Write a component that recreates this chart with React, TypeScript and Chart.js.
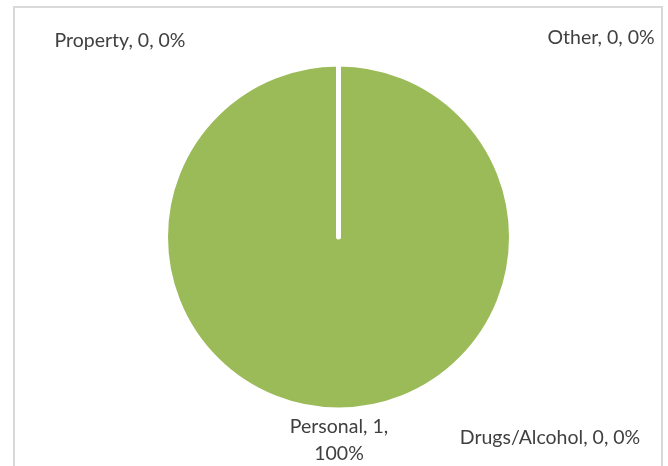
import React, { useEffect, useRef } from "react";
import { Chart, registerables } from "chart.js";

Chart.register(...registerables);

const categories = ["Personal", "Property", "Drugs/Alcohol", "Other"];
const values = [1, 0, 0, 0];
const colors = ["#9BBB59", "#4F81BD", "#C0504D", "#8064A2"];

// label layout (text line centres, px) — presentation only
const labelPos: Record<string, { x: number; y: number; lines: number }> = {
  Personal: { x: 339, y: 427, lines: 2 },
  Property: { x: 120, y: 41, lines: 1 },
  "Drugs/Alcohol": { x: 550, y: 438, lines: 1 },
  Other: { x: 601, y: 38, lines: 1 },
};

const FONT = '19.5px Lato, "Noto Sans", sans-serif';

const framePlugin = {
  id: "frame",
  beforeDraw(chart: any) {
    const ctx = chart.ctx;
    ctx.save();
    ctx.fillStyle = "#ffffff";
    ctx.fillRect(0, 0, chart.width, chart.height);
    ctx.strokeStyle = "#D9D9D9";
    ctx.lineWidth = 2;
    ctx.strokeRect(14, 7, 648, 520);
    ctx.restore();
  },
};

const labelPlugin = {
  id: "sliceLabels",
  afterDraw(chart: any) {
    const ctx = chart.ctx;
    const ds = chart.data.datasets[0];
    const data = ds.data as number[];
    const total = data.reduce((a, b) => a + b, 0);
    ctx.save();
    ctx.fillStyle = "#404040";
    ctx.font = FONT;
    ctx.textAlign = "center";
    ctx.textBaseline = "middle";
    (chart.data.labels as string[]).forEach((cat, i) => {
      const v = data[i];
      const pct = total ? Math.round((v / total) * 100) : 0;
      const pos = labelPos[cat];
      if (!pos) return;
      if (pos.lines === 2) {
        ctx.fillText(`${cat}, ${v},`, pos.x, pos.y);
        ctx.fillText(`${pct}%`, pos.x, pos.y + 27);
      } else {
        ctx.fillText(`${cat}, ${v}, ${pct}%`, pos.x, pos.y);
      }
    });
    ctx.restore();
  },
};

export default function App() {
  const ref = useRef<HTMLCanvasElement>(null);
  useEffect(() => {
    document.body.style.margin = "0";
    const chart = new Chart(ref.current!, {
      type: "pie",
      data: {
        labels: categories,
        datasets: [
          {
            data: values,
            backgroundColor: colors,
            borderColor: "#ffffff",
            borderWidth: 5,
            borderJoinStyle: "round",
          } as any,
        ],
      },
      options: {
        animation: false,
        responsive: false,
        maintainAspectRatio: false,
        layout: { padding: { left: 163, right: 154, top: 61, bottom: 53 } },
        plugins: { legend: { display: false }, tooltip: { enabled: false } },
      },
      plugins: [framePlugin, labelPlugin],
    });
    return () => chart.destroy();
  }, []);
  return (
    <div style={{ width: 668, height: 466 }}>
      <canvas ref={ref} width={668} height={466} style={{ display: "block" }} />
    </div>
  );
}
